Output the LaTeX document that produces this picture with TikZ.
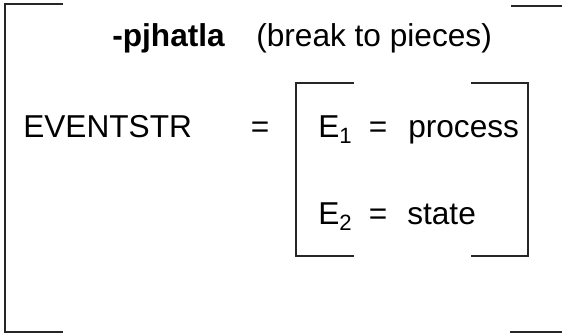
\documentclass[tikz,border=0pt]{standalone}
\usepackage{fontspec}
\setmainfont{Liberation Sans}
\usepackage{tikz}
\usetikzlibrary{arrows.meta,positioning}

\begin{document}
\begin{tikzpicture}[>=Stealth,scale=1.0,
    font=\fontsize{22.5}{27}\selectfont,
    brk/.style={line width=1.3pt,black!85},
    lbl/.style={anchor=base west,inner sep=0pt}]
  \useasboundingbox (0,0) rectangle (14.05,8.35);
  % head line
  \node[lbl,font=\fontsize{22.5}{27}\selectfont\bfseries] (verb) at (2.8,7.175) {-pjhatla};
  \node[lbl] (gloss) at (6.4,7.175) {(break to pieces)};
  % feature and its value
  \node[lbl] (feat) at (0.575,4.9) {EVENTSTR};
  \node[lbl,anchor=base] (eq) at (6.5,4.9) {=};
  \node[lbl] (eone) at (7.95,4.9) {E\textsubscript{1}};
  \node[lbl,anchor=base] (eqone) at (9.45,4.9) {=};
  \node[lbl] (proc) at (10.2,4.9) {process};
  \node[lbl] (etwo) at (7.95,2.725) {E\textsubscript{2}};
  \node[lbl,anchor=base] (eqtwo) at (9.45,2.725) {=};
  \node[lbl] (stat) at (10.175,2.725) {state};
  % outer brackets
  \draw[brk] (1.575,8.24) -- (0.125,8.24) -- (0.125,0.06) -- (1.575,0.06);
  \draw[brk] (12.77,8.21) -- (14.05,8.21);
  \draw[brk] (12.75,0.05) -- (14.05,0.05);
  % inner brackets
  \draw[brk] (8.85,6.27) -- (7.4,6.27) -- (7.4,1.95) -- (8.85,1.95);
  \draw[brk] (11.77,6.27) -- (13.21,6.27) -- (13.21,1.95) -- (11.77,1.95);
\end{tikzpicture}
\end{document}
